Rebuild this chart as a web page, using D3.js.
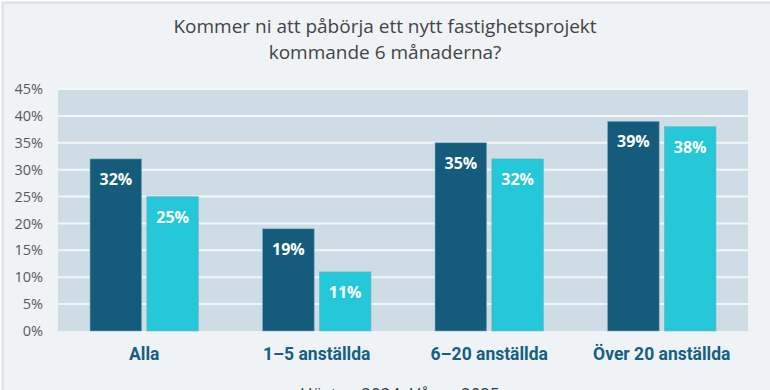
<!DOCTYPE html>
<html>
<head>
<meta charset="utf-8">
<script src="https://cdn.jsdelivr.net/npm/d3@7"></script>
<style>
  html, body { margin: 0; padding: 0; background: #fff; }
  #chart { width: 770px; height: 390px; }
  .tick text { font-family: "Open Sans", "Noto Sans", sans-serif; }
</style>
</head>
<body>
<div id="chart"></div>
<script>
const categories = ["Alla", "1–5 anställda", "6–20 anställda", "Över 20 anställda"];
const seriesNames = ["Hösten 2024", "Våren 2025"];
const seriesA = [32, 19, 35, 39];
const seriesB = [25, 11, 32, 38];
const yTicks = [0, 5, 10, 15, 20, 25, 30, 35, 40, 45];
const titleLines = ["Kommer ni att påbörja ett nytt fastighetsprojekt", "kommande 6 månaderna?"];

const colors = ["#155b7b", "#24c8d8"];

function drawChart(container){
    d3.select(container).selectAll('*').remove();

    const width = 770, height = 390,
          margin = {top: 89, right: 22, bottom: 59, left: 58},
          innerWidth = width - margin.left - margin.right,
          innerHeight = height - margin.top - margin.bottom;

    const svg = d3.select(container).append('svg')
        .attr('width', width)
        .attr('height', height);

    // background and frame
    svg.append('rect')
        .attr('x', 2.5).attr('y', 2.5)
        .attr('width', width).attr('height', height)
        .style('fill', '#eff3f6')
        .style('stroke', '#dcdfe2')
        .style('stroke-width', 2);

    svg.append('g').selectAll('text')
        .data(titleLines)
        .enter().append('text')
        .attr('x', 385)
        .attr('y', (d, i) => 33 + i * 26)
        .attr('text-anchor', 'middle')
        .style('font-family', '"Open Sans", "Noto Sans", sans-serif')
        .style('font-size', '19px')
        .style('fill', '#444')
        .text(d => d);

    const viz = svg.append('g')
        .attr('transform', `translate(${margin.left},${margin.top})`);

    const y = d3.scaleLinear().domain([0, 45]).range([innerHeight, 0]);
    const x = d3.scaleBand().domain(categories).range([0, innerWidth]).paddingInner(0).paddingOuter(0);
    const xs = d3.scaleBand().domain([0, 1]).range([32, x.bandwidth() - 32]).paddingInner(0.09);

    viz.append('rect')
        .attr('width', innerWidth).attr('height', innerHeight)
        .style('fill', '#cedde5');

    viz.append('g').selectAll('line')
        .data(yTicks.slice(1))
        .enter().append('line')
        .attr('x1', 0).attr('x2', innerWidth)
        .attr('y1', d => y(d)).attr('y2', d => y(d))
        .style('stroke', '#f3f6f8')
        .style('stroke-width', 2);

    const yAxis = d3.axisLeft(y).tickValues(yTicks).tickFormat(d => d + '%').tickSize(0).tickPadding(15);
    const ya = viz.append('g').call(yAxis);
    ya.select('.domain').remove();
    ya.selectAll('text').style('font-size', '14.5px').style('fill', '#595959');

    const series = [seriesA, seriesB];
    series.forEach((vals, s) => {
        const g = viz.append('g');
        g.selectAll('rect')
            .data(vals)
            .enter().append('rect')
            .attr('x', (d, i) => x(categories[i]) + xs(s))
            .attr('y', d => y(d))
            .attr('width', xs.bandwidth())
            .attr('height', d => innerHeight - y(d))
            .style('fill', colors[s])
            .style('stroke', '#7fb3c6')
            .style('stroke-width', 0.6);
        g.selectAll('text')
            .data(vals)
            .enter().append('text')
            .attr('x', (d, i) => x(categories[i]) + xs(s) + xs.bandwidth() / 2)
            .attr('y', d => y(d) + 26)
            .attr('text-anchor', 'middle')
            .style('font-family', '"Open Sans", "Noto Sans", sans-serif')
            .style('font-weight', 'bold')
            .style('font-size', '16px')
            .style('fill', '#fff')
            .text(d => d + '%');
    });

    const xAxis = d3.axisBottom(x).tickSize(0).tickPadding(17);
    const xa = viz.append('g').attr('transform', `translate(0,${innerHeight})`).call(xAxis);
    xa.select('.domain').remove();
    xa.selectAll('text')
        .style('font-family', '"Liberation Sans Narrow", "Roboto", sans-serif')
        .style('font-weight', 'bold')
        .style('font-size', '17.5px')
        .style('fill', '#175f80');

    // legend, mostly below the visible frame
    const legend = svg.append('g').attr('transform', 'translate(300,400)');
    seriesNames.forEach((n, i) => {
        legend.append('text')
            .attr('x', i * 110)
            .attr('y', 0)
            .style('font-family', '"Open Sans", sans-serif')
            .style('font-size', '17px')
            .style('fill', '#2a3a45')
            .text(n);
    });
}

drawChart('#chart');
</script>
</body>
</html>
